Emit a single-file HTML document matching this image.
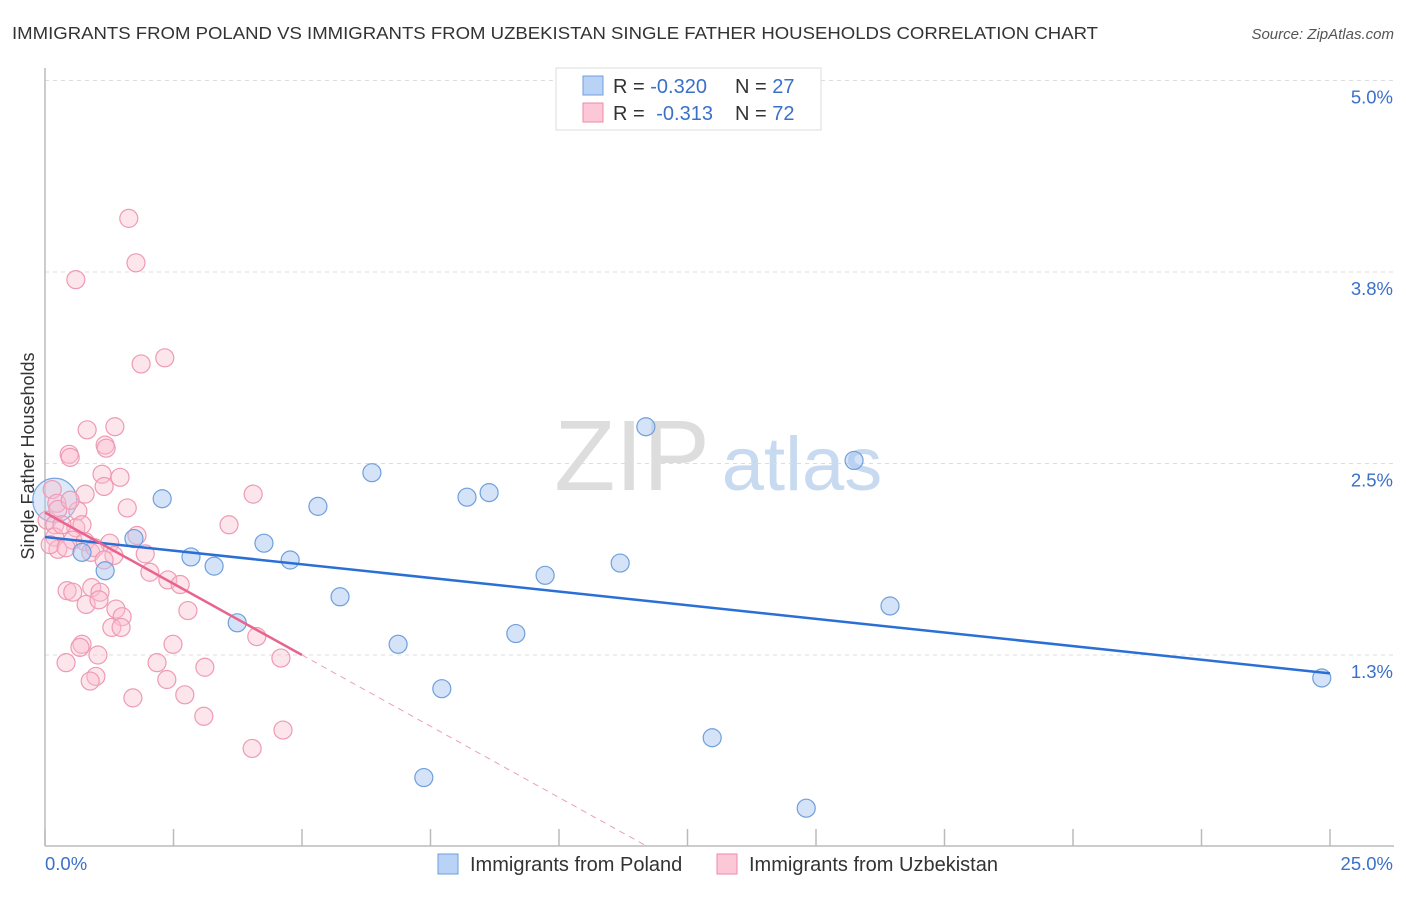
<!DOCTYPE html>
<html><head><meta charset="utf-8"><style>
body{margin:0;background:#fff;font-family:"Liberation Sans",sans-serif;}
svg text{font-family:"Liberation Sans",sans-serif;}
</style></head><body>
<svg id="chart" width="1406" height="892" xmlns="http://www.w3.org/2000/svg">
<text x="12" y="39" font-size="17.5" fill="#333" textLength="1086" lengthAdjust="spacingAndGlyphs">IMMIGRANTS FROM POLAND VS IMMIGRANTS FROM UZBEKISTAN SINGLE FATHER HOUSEHOLDS CORRELATION CHART</text>
<text x="1394" y="39" font-size="15" fill="#555" font-style="italic" text-anchor="end">Source: ZipAtlas.com</text>
<g>
<text x="632" y="490" font-size="100" fill="#ddd" font-family="Liberation Serif" text-anchor="middle">ZIP</text>
<text x="802" y="490" font-size="76" fill="#c8daf0" text-anchor="middle">atlas</text>
</g>
<g id="grid"></g>
<g id="axes"></g>
<text transform="translate(34,456) rotate(-90)" font-size="18" fill="#333" text-anchor="middle">Single Father Households</text>
<g id="marks"></g>
<g>
<rect x="556" y="68" width="265" height="62" fill="#fff" stroke="#ddd"/>
<rect x="583" y="76" width="20" height="19" fill="#b8d3f5" stroke="#6f9fdc"/>
<rect x="583" y="103" width="20" height="19" fill="#fcc8d8" stroke="#ec8aa8"/>
<text x="613" y="93" font-size="20" fill="#333">R = <tspan fill="#3a70c8">-0.320</tspan></text>
<text x="735" y="93" font-size="20" fill="#333">N = <tspan fill="#3a70c8">27</tspan></text>
<text x="613" y="120" font-size="20" fill="#333">R = <tspan fill="#3a70c8" dx="6">-0.313</tspan></text>
<text x="735" y="120" font-size="20" fill="#333">N = <tspan fill="#3a70c8">72</tspan></text>
</g>
<g>
<rect x="438" y="854" width="20" height="20" fill="#b8d3f5" stroke="#6f9fdc"/>
<text x="470" y="871" font-size="20" fill="#333">Immigrants from Poland</text>
<rect x="717" y="854" width="20" height="20" fill="#fcc8d8" stroke="#ec8aa8"/>
<text x="749" y="871" font-size="20" fill="#333">Immigrants from Uzbekistan</text>
</g>
</svg>
<script>
const yTicks=[1.25,2.5,3.75,5.0];
const yTickLabels=["1.3%","2.5%","3.8%","5.0%"];
const xTickLabels=["0.0%","25.0%"];
const polandX=[0.19,2.28,1.17,0.72,1.73,2.84,3.29,3.74,4.26,4.77,5.31,5.74,6.36,6.87,7.72,7.37,8.21,8.64,9.16,9.73,11.19,11.69,12.98,14.81,15.74,16.44,24.84];
const polandY=[2.26,2.27,1.80,1.92,2.01,1.89,1.83,1.46,1.98,1.87,2.22,1.63,2.44,1.32,1.03,0.45,2.28,2.31,1.39,1.77,1.85,2.74,0.71,0.25,2.52,1.57,1.10];
const uzbX=[1.63,1.77,0.60,1.87,2.33,0.82,1.36,0.47,0.49,1.17,1.19,1.11,1.46,1.15,0.78,4.05,0.14,0.23,1.60,0.64,0.04,0.19,0.60,3.58,1.79,0.19,0.54,0.78,1.26,0.25,0.89,1.95,1.34,2.04,2.39,2.63,0.91,0.43,0.54,1.07,0.80,1.38,2.78,1.05,1.50,1.30,1.48,2.49,0.72,4.12,0.68,1.03,0.41,2.18,4.59,3.11,0.99,2.37,0.88,2.72,1.71,3.09,4.63,4.03,0.25,0.10,0.33,0.97,1.15,0.49,0.72,0.41];
const uzbY=[4.10,3.81,3.70,3.15,3.19,2.72,2.74,2.56,2.54,2.62,2.60,2.43,2.41,2.35,2.30,2.30,2.33,2.24,2.21,2.19,2.13,2.10,2.08,2.10,2.03,2.02,2.00,1.99,1.98,1.94,1.92,1.91,1.90,1.79,1.74,1.71,1.69,1.67,1.66,1.66,1.58,1.55,1.54,1.61,1.50,1.43,1.43,1.32,1.32,1.37,1.30,1.25,1.20,1.20,1.23,1.17,1.11,1.09,1.08,0.99,0.97,0.85,0.76,0.64,2.20,1.97,2.10,1.95,1.87,2.26,2.10,1.95];
const polandTrend=[2.02,1.13];
const uzbTrend=[2.18,-0.186];
const uzbSolidEnd=5.0;
const X0=45,X1=1330,Y0=846.5,PXY=153.2;
function sx(v){return X0+(v/25)*(X1-X0);}
function sy(v){return Y0-v*PXY;}
const NS="http://www.w3.org/2000/svg";
function mk(tag,attrs,parent){const e=document.createElementNS(NS,tag);for(const k in attrs)e.setAttribute(k,attrs[k]);parent.appendChild(e);return e;}
const grid=document.getElementById('grid'),axes=document.getElementById('axes'),marks=document.getElementById('marks');
yTicks.forEach((t,i)=>{
 const l=mk('line',{x1:45,x2:1394,y1:sy(t),y2:sy(t),stroke:'#ddd','stroke-dasharray':'4,4'},grid);
 
 
 const tx=mk('text',{x:1393,y:sy(t)+23,'font-size':18.5,fill:'#3a70c8','text-anchor':'end'},axes);
 tx.textContent=yTickLabels[i];
 
 
});
const ya=mk('line',{x1:45,x2:45,y1:68,y2:846,stroke:'#bbb','stroke-width':1.5},axes);


const xa=mk('line',{x1:45,x2:1394,y1:846,y2:846,stroke:'#bbb','stroke-width':1.5},axes);


for(let i=0;i<=10;i++){
 const tk=mk('line',{x1:sx(i*2.5),x2:sx(i*2.5),y1:829,y2:846,stroke:'#bbb','stroke-width':1.5},axes);
 
 
}
const xl0=mk('text',{x:45,y:870,'font-size':18.5,fill:'#3a70c8'},axes);xl0.textContent=xTickLabels[0];


const xl1=mk('text',{x:1393,y:870,'font-size':18.5,fill:'#3a70c8','text-anchor':'end'},axes);xl1.textContent=xTickLabels[1];


const big=mk('circle',{cx:sx(polandX[0]),cy:sy(polandY[0]),r:22,fill:'rgba(170,200,240,0.4)',stroke:'#7aa6e0','stroke-width':1.2},marks);


uzbX.forEach((x,i)=>{
 const c=mk('circle',{cx:sx(x),cy:sy(uzbY[i]),r:9,fill:'rgba(250,190,208,0.4)',stroke:'#ee9ab5','stroke-width':1.2},marks);
 
 
});
polandX.forEach((x,i)=>{
 if(i===0)return;
 const c=mk('circle',{cx:sx(x),cy:sy(polandY[i]),r:9,fill:'rgba(170,200,240,0.5)',stroke:'#6f9fdc','stroke-width':1.2},marks);
 
 
});
const pl=mk('line',{x1:sx(0),y1:sy(polandTrend[0]),x2:sx(25),y2:sy(polandTrend[1]),stroke:'#2a6fd6','stroke-width':2.5},marks);


const ue=uzbTrend[0]+uzbTrend[1]*uzbSolidEnd;
const ul=mk('line',{x1:sx(0),y1:sy(uzbTrend[0]),x2:sx(uzbSolidEnd),y2:sy(ue),stroke:'#e8648e','stroke-width':2.5},marks);


const zx=-uzbTrend[0]/uzbTrend[1];
const ud=mk('line',{x1:sx(uzbSolidEnd),y1:sy(ue),x2:sx(zx),y2:sy(0),stroke:'#eaa0b8','stroke-width':1,'stroke-dasharray':'6,5'},marks);


</script>
</body></html>
